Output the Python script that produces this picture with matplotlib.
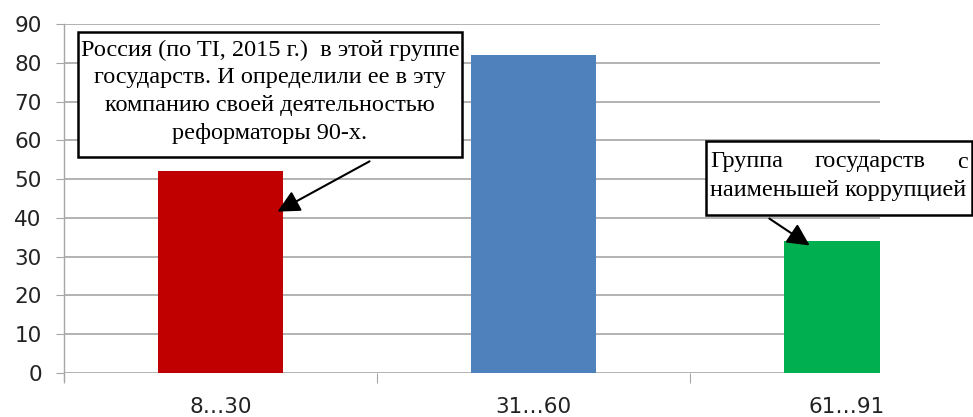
import matplotlib
matplotlib.use("Agg")
import matplotlib.pyplot as plt
from matplotlib.patches import Rectangle

categories = ["8…30", "31…60", "61…91"]
values = [52, 82, 34]
colors = ["#C00000", "#4F81BD", "#00B050"]
yticks = [0, 10, 20, 30, 40, 50, 60, 70, 80, 90]

note1 = ["Россия (по TI, 2015 г.)  в этой группе",
         "государств. И определили ее в эту",
         "компанию своей деятельностью",
         "реформаторы 90-х."]
note2_line1 = ["Группа", "государств", "с"]
note2_line2 = "наименьшей коррупцией"

W, H = 973, 417
fig = plt.figure(figsize=(W / 100, H / 100), dpi=100)

def fx(px):
    return px / W

def fy(py):
    return 1 - py / H

left, right, top, bottom = 64, 880, 24, 373
ax = fig.add_axes([fx(left), fy(bottom), fx(right) - fx(left), fy(top) - fy(bottom)])

grid_c = "#a6a6a6"
x = list(range(len(categories)))
ax.bar(x, values, width=0.4, color=colors, zorder=3)
ax.set_ylim(0, 90)
ax.set_xlim(-0.5, -0.5 + (right - left) / 313.0)
ax.set_yticks(yticks)
ax.yaxis.grid(True, color=grid_c, linewidth=1.2, zorder=0)
for s in ["top", "right", "bottom"]:
    ax.spines[s].set_visible(False)
ax.spines["left"].set_color(grid_c)
ax.spines["left"].set_linewidth(1.0)
ax.spines["left"].set_bounds(-2, 90)

num_font = ["Liberation Sans Narrow", "DejaVu Sans"]
ax.tick_params(axis="y", direction="out", length=6, color=grid_c, pad=10,
               labelsize=15.5, labelcolor="#222222")
for lab in ax.get_yticklabels():
    lab.set_family(num_font)

ax.set_xticks([-0.5, 0.5, 1.5])
ax.set_xticklabels([])
ax.tick_params(axis="x", which="major", direction="out", length=7, color=grid_c)
ax.set_xticks(x, minor=True)
ax.set_xticklabels(categories, minor=True, fontsize=15.5, color="#222222", family=num_font)
ax.tick_params(axis="x", which="minor", length=0, pad=17)

serif = ["Liberation Serif", "DejaVu Serif"]
fs = 17.5

# Box 1
b1 = (78, 32, 462, 157)
fig.patches.append(Rectangle((fx(b1[0]), fy(b1[3])), fx(b1[2]) - fx(b1[0]), fy(b1[1]) - fy(b1[3]),
                             transform=fig.transFigure, facecolor="white", edgecolor="black",
                             linewidth=1.8, zorder=5))
line_y = [50, 78, 105, 133]
for t, yy in zip(note1, line_y):
    fig.text(fx((b1[0] + b1[2]) / 2), fy(yy), t, ha="center", va="center",
             fontsize=fs, family=serif, zorder=6)

fig.add_artist(matplotlib.patches.FancyArrowPatch(
    (fx(372), fy(160)), (fx(275), fy(213)), transform=fig.transFigure,
    arrowstyle="-|>,head_length=9,head_width=4.5", color="black", linewidth=1.5, zorder=6,
    mutation_scale=1.5))

# Box 2
b2 = (706, 141, 972, 215)
fig.patches.append(Rectangle((fx(b2[0]), fy(b2[3])), fx(b2[2]) - fx(b2[0]), fy(b2[1]) - fy(b2[3]),
                             transform=fig.transFigure, facecolor="white", edgecolor="black",
                             linewidth=1.8, zorder=5))
fig.text(fx(710), fy(162), note2_line1[0], ha="left", va="center", fontsize=fs, family=serif, zorder=6)
fig.text(fx(870), fy(162), note2_line1[1], ha="center", va="center", fontsize=fs, family=serif, zorder=6)
fig.text(fx(968), fy(162), note2_line1[2], ha="right", va="center", fontsize=fs, family=serif, zorder=6)
fig.text(fx(710), fy(190), note2_line2, ha="left", va="center", fontsize=fs, family=serif, zorder=6)

fig.add_artist(matplotlib.patches.FancyArrowPatch(
    (fx(767), fy(217)), (fx(812), fy(247)), transform=fig.transFigure,
    arrowstyle="-|>,head_length=9,head_width=4.5", color="black", linewidth=1.5, zorder=6,
    mutation_scale=1.5))

fig.savefig("out.png", dpi=100, facecolor="white")
